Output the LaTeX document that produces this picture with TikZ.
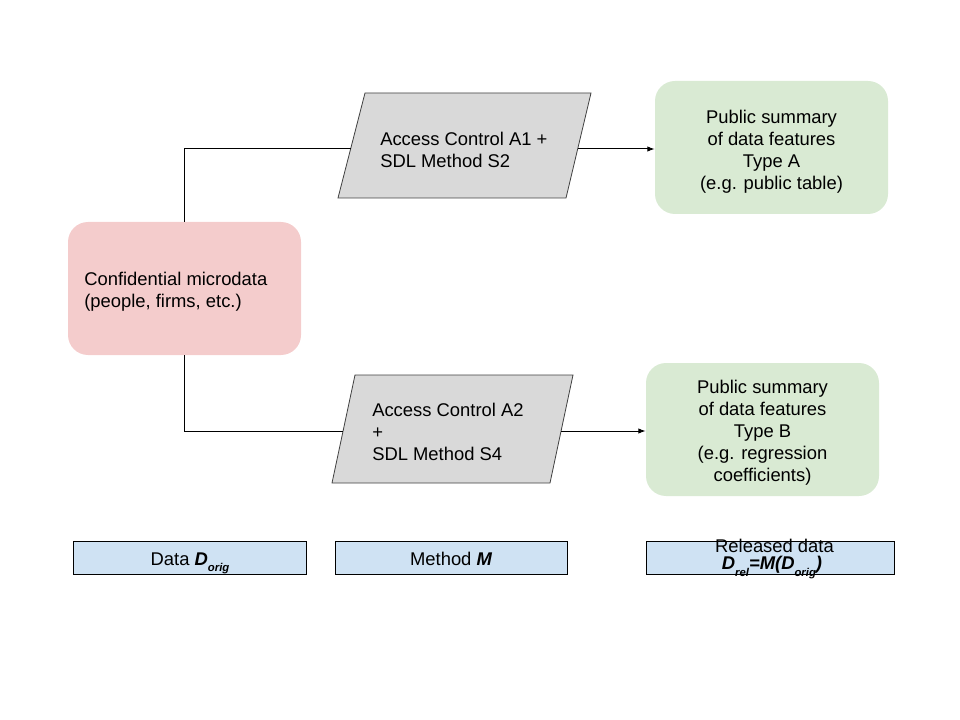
\documentclass[tikz,border=0pt]{standalone}
\usepackage{fontspec}
\setmainfont{Liberation Sans}
\usetikzlibrary{arrows.meta}
\definecolor{pinkfill}{HTML}{F4CCCC}
\definecolor{greenfill}{HTML}{D9EAD3}
\definecolor{grayfill}{HTML}{D9D9D9}
\definecolor{bluefill}{HTML}{CFE2F3}
\definecolor{pardraw}{HTML}{404040}
\newcommand{\subtx}[2][4.5pt]{\raisebox{-#1}{\fontsize{8.5pt}{8.5pt}\selectfont\bfseries\itshape #2}}
\newcommand{\bi}[1]{{\bfseries\itshape #1}}
\tikzset{
  txt/.style={font=\fontsize{13.8pt}{16.5pt}\selectfont, inner sep=0pt},
  roundbox/.style={rounded corners=15pt, minimum width=174.75pt, minimum height=99.75pt, inner sep=0pt},
  pinkbox/.style={roundbox, fill=pinkfill},
  greenbox/.style={roundbox, fill=greenfill},
  labelbox/.style={draw=black, line width=0.75pt, fill=bluefill, minimum height=24.75pt, inner sep=0pt},
  parshape/.style={draw=pardraw, line width=0.6pt, fill=grayfill},
  conn/.style={draw=black, line width=0.75pt},
  arr/.style={conn, -{Latex[length=5.5pt,width=4pt]}},
}
\begin{document}
\begin{tikzpicture}[x=0.75pt, y=-0.75pt]
\useasboundingbox (0,0) rectangle (960,720);
% source
\node[pinkbox] (src) at (184.5,288.5) {};
\node[txt, anchor=west, align=left] (srct) at (84,291.5) {Confidential microdata\\(people, firms, etc.)};
% top parallelogram
\coordinate (p1a) at (365,93);
\coordinate (p1b) at (591,93);
\coordinate (p1c) at (566,198);
\coordinate (p1d) at (338,198);
\path[parshape] (p1a) -- (p1b) -- (p1c) -- (p1d) -- cycle;
\node[txt, anchor=west, align=left] (m1) at (380,150) {Access Control A1 +\\SDL Method S2};
\coordinate (p1in) at (350.5,149);
\coordinate (p1out) at (577.5,149);
% bottom parallelogram
\coordinate (p2a) at (355,375);
\coordinate (p2b) at (573,375);
\coordinate (p2c) at (550,483);
\coordinate (p2d) at (332,483);
\path[parshape] (p2a) -- (p2b) -- (p2c) -- (p2d) -- cycle;
\node[txt, anchor=west, align=left] (m2) at (372,432) {Access Control A2\\+\\SDL Method S4};
\coordinate (p2in) at (343,431);
\coordinate (p2out) at (561,431);
% outputs
\node[greenbox] (outA) at (771.5,147.5) {};
\node[txt, align=center] (outAt) at (771.5,151.5) {Public summary\\of data features\\Type A\\(e.g. public table)};
\node[greenbox] (outB) at (762.5,429.5) {};
\node[txt, align=center] (outBt) at (762.5,432.5) {Public summary\\of data features\\Type B\\(e.g. regression\\coefficients)};
% connectors
\draw[conn] (src.north) |- (p1in);
\draw[arr] (p1out) -- (p1out -| outA.west);
\draw[conn] (src.south) |- (p2in);
\draw[arr] (p2out) -- (p2out -| outB.west);
% labels
\node[labelbox, minimum width=174.75pt] (l1) at (189.5,557.5) {};
\node[txt, anchor=base] (l1t) at (190,565) {Data \bi{D}\subtx{orig}};
\node[labelbox, minimum width=174pt] (l2) at (451,557.5) {};
\node[txt, anchor=base] (l2t) at (451,565) {Method \bi{M}};
\node[labelbox, minimum width=186pt] (l3) at (770,557.5) {};
\node[txt, anchor=base] (l3a) at (774.5,552) {Released data};
\node[txt, anchor=base] (l3b) at (772,569) {\bi{D}\subtx[5.5pt]{rel}\bi{=M(D}\subtx[5.5pt]{orig}\bi{)}};
\end{tikzpicture}
\end{document}
